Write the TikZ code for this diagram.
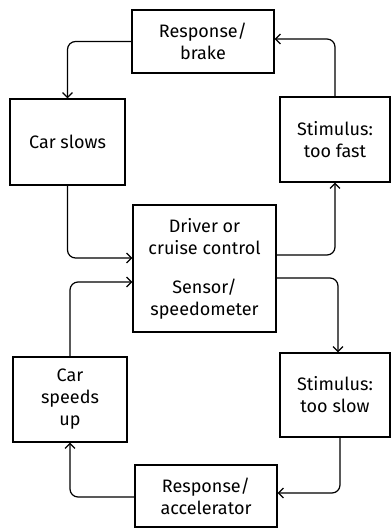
\documentclass[tikz,border=0pt]{standalone}
\usepackage{fontspec}
\setmainfont{Fira Sans}
\usetikzlibrary{arrows.meta}
\begin{document}
\begin{tikzpicture}[x=1pt,y=-1pt,
  box/.style={draw, line width=1.2pt, inner sep=0pt, align=center,
    font=\fontsize{18}{22}\selectfont},
  conn/.style={draw, line width=1.2pt, rounded corners=8pt,
    -{Straight Barb[length=5pt,width=10pt]}}]
\useasboundingbox (0,0) rectangle (391,529);
\node[box, minimum width=142pt, minimum height=63pt] (rb) at (203,41.5) {Response/\\brake};
\node[box, minimum width=115pt, minimum height=86pt] (cs) at (67.5,142) {Car slows};
\node[box, minimum width=110pt, minimum height=85pt] (tf) at (335,139.5) {Stimulus:\\too fast};
\node[box, minimum width=143pt, minimum height=127pt] (dr) at (204.5,268.5) {Driver or\\cruise control\\[17pt]Sensor/\\speedometer};
\node[box, minimum width=114pt, minimum height=85pt] (cu) at (70,399.5) {Car\\speeds\\up};
\node[box, minimum width=110pt, minimum height=84pt] (ts) at (335,395) {Stimulus:\\too slow};
\node[box, minimum width=142pt, minimum height=62pt] (ra) at (206,496) {Response/\\accelerator};
\draw[conn] (rb.west) -| (cs.north);
\draw[conn] (cs.south) |- ([yshift=10.5pt]dr.west);
\draw[conn] ([yshift=13.5pt]dr.east) -| (tf.south);
\draw[conn] (tf.north) |- ([yshift=2.5pt]rb.east);
\draw[conn] ([yshift=-9.5pt]dr.east) -| ([xshift=3pt]ts.north);
\draw[conn] ([xshift=5pt]ts.south) |- ([yshift=3pt]ra.east);
\draw[conn] ([yshift=-1pt]ra.west) -| (cu.south);
\draw[conn] (cu.north) |- ([yshift=-13.5pt]dr.west);
\end{tikzpicture}
\end{document}
